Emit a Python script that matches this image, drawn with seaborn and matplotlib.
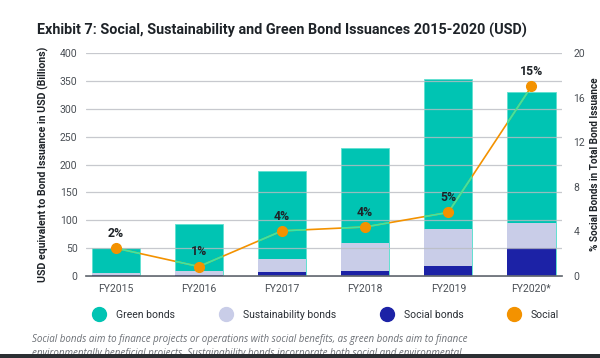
import numpy as np
import pandas as pd
import matplotlib
matplotlib.use("Agg")
import matplotlib.pyplot as plt
import seaborn as sns
from matplotlib.lines import Line2D
from matplotlib.patches import Rectangle

# Datos (miles de millones USD y % social)
years = ["FY2015", "FY2016", "FY2017", "FY2018", "FY2019", "FY2020*"]
social_bonds = [1.5, 2.0, 7.0, 9.5, 18.0, 51.0]
sustainability_bonds = [4.5, 7.0, 23.0, 49.0, 67.0, 44.0]
green_bonds = [44.0, 83.5, 158.0, 171.0, 268.0, 235.0]
social_pct = [2.5, 0.85, 4.05, 4.4, 5.7, 17.0]
pct_labels = ["2%", "1%", "4%", "4%", "5%", "15%"]

c_green = "#00C4B3"
c_sust = "#C9CDE8"
c_social = "#1C22A6"
c_line = "#F39200"
c_mint = "#38E8A6"

sns.set_style("white")
plt.rcParams["font.family"] = ["Roboto", "DejaVu Sans"]

df = pd.DataFrame({"year": years,
                   "social": social_bonds,
                   "sust": sustainability_bonds,
                   "green": green_bonds})
df["lvl2"] = df["social"] + df["sust"]
df["total"] = df["lvl2"] + df["green"]

fig = plt.figure(figsize=(6, 3.58), dpi=100)
ax = fig.add_axes([0.143, 0.229, 0.794, 0.623])

# barras apiladas: total, luego social+sust, luego social
sns.barplot(data=df, x="year", y="total", color=c_green, width=0.58,
            saturation=1, edgecolor="#5FE0D0", linewidth=0.6, ax=ax)
green_patches = list(ax.patches)
sns.barplot(data=df, x="year", y="lvl2", color=c_sust, width=0.58,
            saturation=1, linewidth=0, ax=ax)
sns.barplot(data=df, x="year", y="social", color=c_social, width=0.58,
            saturation=1, linewidth=0, ax=ax)

ax.set_ylim(0, 400)
ax.set_yticks(range(0, 401, 50))
ax.set_xlim(-0.36, 5.37)
ax.set_axisbelow(False)
ax.grid(axis="y", color="#B9BCC2", linewidth=0.9, alpha=0.8)
ax.grid(axis="x", visible=False)
for s in ["top", "right", "left"]:
    ax.spines[s].set_visible(False)
ax.spines["bottom"].set_color("#5A6068")
ax.spines["bottom"].set_linewidth(1.2)
ax.tick_params(length=0, labelsize=7.5, labelcolor="#4A4F55", pad=6)
ax.set_xlabel("")
ax.set_ylabel("USD equivalent to Bond Issuance in USD (Billions)",
              fontsize=7.6, fontweight="bold", color="#1E2328", labelpad=8)

# eje derecho con la linea del % social
ax2 = ax.twinx()
ax2.set_ylim(0, 20)
ax2.set_yticks(range(0, 21, 4))
xs = np.arange(len(years))
sns.lineplot(x=xs, y=social_pct, color=c_line, linewidth=1.2, ax=ax2)
for p in green_patches:
    ln, = ax2.plot(xs, social_pct, color=c_mint, linewidth=1.2)
    ln.set_clip_path(p)
ax2.plot(xs, social_pct, "o", color=c_line, markersize=7, zorder=5)
for x, y, t in zip(xs, social_pct, pct_labels):
    ax2.annotate(t, (x, y), xytext=(0, 6), textcoords="offset points",
                 ha="center", va="bottom", fontsize=8.8, fontweight="bold",
                 color="#1E2328")
ax2.set_xlim(-0.36, 5.37)
for s in ["top", "right", "left", "bottom"]:
    ax2.spines[s].set_visible(False)
ax2.tick_params(length=0, labelsize=7.5, labelcolor="#4A4F55", pad=8)
ax2.set_ylabel("% Social Bonds in Total Bond Issuance", fontsize=7.2,
               fontweight="bold", color="#1E2328", labelpad=4)

fig.text(0.062, 0.915, "Exhibit 7: Social, Sustainability and Green Bond Issuances 2015-2020 (USD)",
         fontsize=10.4, fontweight="bold", color="#1E2328", va="center")

handles = [Line2D([], [], marker="o", linestyle="", markersize=10, color=c)
           for c in [c_green, c_sust, c_social, c_line]]
fig.legend(handles, ["Green bonds", "Sustainability bonds", "Social bonds", "Social"],
           loc="center", bbox_to_anchor=(0.54, 0.12), ncol=4, frameon=False,
           fontsize=7.5, columnspacing=3.9, handletextpad=0.6,
           labelcolor="#2A2F35")

fig.text(0.053, 0.053, "Social bonds aim to finance projects or operations with social benefits, as green bonds aim to finance",
         fontsize=7.0, style="italic", family=["Open Sans", "DejaVu Sans"],
         color="#6B6F75", va="center")
fig.text(0.053, 0.012, "environmentally beneficial projects. Sustainability bonds incorporate both social and environmental",
         fontsize=7.0, style="italic", family=["Open Sans", "DejaVu Sans"],
         color="#6B6F75", va="center")
fig.patches.append(Rectangle((0, 0), 1, 0.011, transform=fig.transFigure,
                             facecolor="#2B2F33", edgecolor="none", zorder=10))

fig.savefig("out.png", dpi=100)
